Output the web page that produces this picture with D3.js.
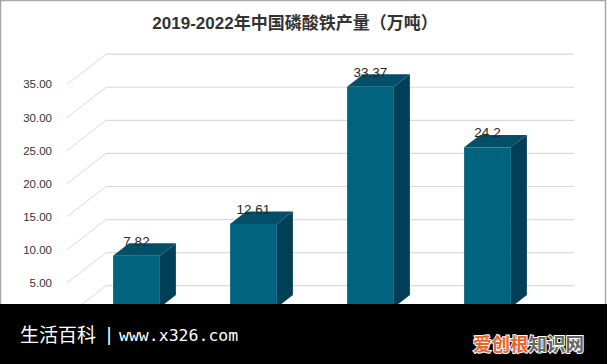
<!DOCTYPE html>
<html>
<head>
<meta charset="utf-8">
<script src="https://cdn.jsdelivr.net/npm/d3@7"></script>
<style>
  body { margin: 0; background: #fff; }
  svg { display: block; }
</style>
</head>
<body>
<svg id="chart" width="607" height="364"></svg>
<script>
/*
3D COLUMN CHART: CHINA IRON PHOSPHATE OUTPUT 2019-2022
*/

const years = ["2019", "2020", "2021", "2022"];
const output = [7.82, 12.61, 33.37, 24.2];
const tickValues = [0, 5, 10, 15, 20, 25, 30, 35];
const tickLabels = ["0.00", "5.00", "10.00", "15.00", "20.00", "25.00", "30.00", "35.00"];

const chartWidth = 607;
const chartHeight = 364;
const bannerTop = 304;
const chart = d3.select("#chart");

// front plane of the bars
const x = d3.scaleBand().domain(years).range([78, 546]).paddingInner(0.6).paddingOuter(0.3);
const y = d3.scaleLinear().domain([0, 35]).range([307.4, 75.9]);

// one unit of depth = bar depth (oblique projection)
const depth = { dx: 16, dy: -12.4 };
const wallBack = 1.75;
const wallFront = -0.69;
const shift = (z) => [depth.dx * z, depth.dy * z];

const cFront = "#02637f";
const cSide = "#013f56";
const cTop = "#034f69";

// back wall gridlines
const [bx, by] = shift(wallBack);
const [fx, fy] = shift(wallFront);

chart
  .append("g")
  .selectAll("line")
  .data(tickValues)
  .enter()
  .append("line")
  .attr("x1", x.range()[0] + bx)
  .attr("x2", x.range()[1] + bx)
  .attr("y1", (d) => y(d) + by)
  .attr("y2", (d) => y(d) + by)
  .attr("stroke", "#d9d9d9")
  .attr("stroke-width", 1.2);

// side wall gridlines (diagonals)
chart
  .append("g")
  .selectAll("line")
  .data(tickValues)
  .enter()
  .append("line")
  .attr("x1", x.range()[0] + bx)
  .attr("x2", x.range()[0] + fx)
  .attr("y1", (d) => y(d) + by)
  .attr("y2", (d) => y(d) + fy)
  .attr("stroke", "#d9d9d9")
  .attr("stroke-width", 1);

// axis labels on front edge of side wall (the 0.00 one sits under the banner)
const labelTicks = tickValues
  .map((v, i) => ({ v: v, label: tickLabels[i] }))
  .filter((d) => y(d.v) + fy < bannerTop);

chart
  .append("g")
  .selectAll("text")
  .data(labelTicks)
  .enter()
  .append("text")
  .text((d) => d.label)
  .attr("x", 52)
  .attr("y", (d) => y(d.v) + fy)
  .attr("dy", "0.35em")
  .attr("text-anchor", "end")
  .attr("font-family", "Liberation Sans, Arial, sans-serif")
  .attr("font-size", 11.5)
  .attr("fill", "#333");

// bars
const bars = chart
  .append("g")
  .selectAll("g")
  .data(years.map((yr, i) => ({ year: yr, value: output[i] })))
  .enter()
  .append("g");

const [dx, dy] = shift(1);

bars
  .append("path")
  .attr("d", (d) => {
    const xr = x(d.year) + x.bandwidth();
    return `M${xr},${y(d.value)} L${xr + dx},${y(d.value) + dy} L${xr + dx},${y(0) + dy} L${xr},${y(0)} Z`;
  })
  .attr("fill", cSide);

bars
  .append("path")
  .attr("d", (d) => {
    const xl = x(d.year);
    const xr = xl + x.bandwidth();
    const yt = y(d.value);
    return `M${xl},${yt} L${xl + dx},${yt + dy} L${xr + dx},${yt + dy} L${xr},${yt} Z`;
  })
  .attr("fill", cTop);

bars
  .append("rect")
  .attr("x", (d) => x(d.year))
  .attr("y", (d) => y(d.value))
  .attr("width", x.bandwidth())
  .attr("height", (d) => y(0) - y(d.value))
  .attr("fill", cFront);

// value labels
bars
  .append("text")
  .text((d) => d.value)
  .attr("x", (d) => x(d.year) + x.bandwidth() / 2)
  .attr("y", (d) => y(d.value) - 10)
  .attr("text-anchor", "middle")
  .attr("font-family", "Liberation Sans, Arial, sans-serif")
  .attr("font-size", 13.5)
  .attr("fill", "#262626");

// title
chart
  .append("text")
  .text("2019-2022年中国磷酸铁产量（万吨）")
  .attr("x", 295)
  .attr("y", 29)
  .attr("text-anchor", "middle")
  .attr("font-family", "Liberation Sans, Noto Sans CJK SC, sans-serif")
  .attr("font-weight", "bold")
  .attr("font-size", 17)
  .attr("fill", "#333");

// border
chart
  .append("rect")
  .attr("x", 0.5)
  .attr("y", 0.5)
  .attr("width", 605)
  .attr("height", chartHeight)
  .attr("fill", "none")
  .attr("stroke", "#a6a6a6")
  .attr("stroke-width", 1.5);

// bottom banner
const banner = chart.append("g");
banner
  .append("rect")
  .attr("x", 0)
  .attr("y", bannerTop)
  .attr("width", chartWidth)
  .attr("height", chartHeight - bannerTop)
  .attr("fill", "#000");

banner
  .append("text")
  .text("生活百科")
  .attr("x", 20)
  .attr("y", 342)
  .attr("font-family", "Noto Sans CJK SC, sans-serif")
  .attr("font-size", 19)
  .attr("fill", "#fff");

banner
  .append("text")
  .text("|")
  .attr("x", 106)
  .attr("y", 341)
  .attr("font-family", "DejaVu Sans, sans-serif")
  .attr("font-size", 18)
  .attr("fill", "#fff");

banner
  .append("text")
  .text("www.x326.com")
  .attr("x", 119)
  .attr("y", 341)
  .attr("font-family", "DejaVu Sans Mono, monospace")
  .attr("font-size", 16.5)
  .attr("fill", "#fff");

const mark = banner
  .append("text")
  .attr("x", 473)
  .attr("y", 351)
  .attr("font-family", "Noto Sans CJK SC, sans-serif")
  .attr("font-weight", "bold")
  .attr("font-size", 18.5)
  .attr("stroke", "#fff")
  .attr("stroke-width", 2)
  .attr("paint-order", "stroke");
mark.append("tspan").text("爱创根").attr("fill", "#e8662a");
mark.append("tspan").text("知识网").attr("fill", "#666");
</script>
</body>
</html>
